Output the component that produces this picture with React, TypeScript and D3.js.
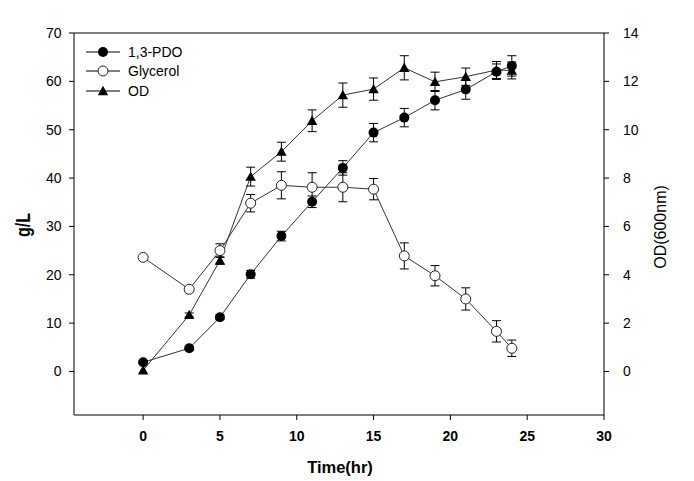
import React from "react";
import * as d3 from "d3";

const times = [0, 3, 5, 7, 9, 11, 13, 15, 17, 19, 21, 23, 24];
const pdo = [1.9, 4.8, 11.2, 20.1, 28.0, 35.1, 42.1, 49.4, 52.5, 56.1, 58.3, 62.0, 63.2];
const pdoErr = [0.3, 0.4, 0.5, 0.8, 1.0, 1.2, 1.5, 1.9, 1.9, 2.0, 2.0, 1.6, 2.1];
const glycerol = [23.6, 17.0, 25.0, 34.8, 38.5, 38.1, 38.1, 37.7, 23.9, 19.8, 15.0, 8.3, 4.8];
const glycerolErr = [0, 0.4, 1.4, 1.8, 2.8, 3.0, 3.0, 2.2, 2.7, 2.1, 2.3, 2.2, 1.7];
const od = [0.05, 2.34, 4.59, 8.06, 9.09, 10.37, 11.43, 11.68, 12.56, 11.98, 12.19, 12.47, 12.45];
const odErr = [0, 0.08, 0.15, 0.39, 0.39, 0.45, 0.5, 0.46, 0.5, 0.4, 0.36, 0.35, 0.35];

const xTicks = [0, 5, 10, 15, 20, 25, 30];
const yTicks = [0, 10, 20, 30, 40, 50, 60, 70];
const y2Ticks = [0, 2, 4, 6, 8, 10, 12, 14];
const seriesNames = ["1,3-PDO", "Glycerol", "OD"];

const W = 694, H = 481;
const L = 74, R = 604, T = 33, B = 415;
const FONT = "Arial, 'Liberation Sans', sans-serif";

export default function App() {
  const x = d3.scaleLinear().domain([-4.5, 30]).range([L, R]);
  const y = d3.scaleLinear().domain([-9, 70]).range([B, T]);
  const y2 = d3.scaleLinear().domain([-1.8, 14]).range([B, T]);
  const line = (vals: number[], ys: d3.ScaleLinear<number, number>) =>
    d3.line<number>().x((_, i) => x(times[i])).y((v) => ys(v))(vals) || "";

  const errBars = (vals: number[], errs: number[], ys: d3.ScaleLinear<number, number>, key: string) =>
    vals.map((v, i) =>
      errs[i] > 0 ? (
        <g key={key + i} stroke="#000" strokeWidth={1}>
          <line x1={x(times[i])} x2={x(times[i])} y1={ys(v - errs[i])} y2={ys(v + errs[i])} />
          <line x1={x(times[i]) - 4.5} x2={x(times[i]) + 4.5} y1={ys(v - errs[i])} y2={ys(v - errs[i])} />
          <line x1={x(times[i]) - 4.5} x2={x(times[i]) + 4.5} y1={ys(v + errs[i])} y2={ys(v + errs[i])} />
        </g>
      ) : null
    );

  const tri = (cx: number, cy: number, s = 5.2) =>
    `M${cx},${cy - s} L${cx + s},${cy + s * 0.8} L${cx - s},${cy + s * 0.8} Z`;

  const legendRows = [
    { name: seriesNames[0], y: 52 },
    { name: seriesNames[1], y: 71 },
    { name: seriesNames[2], y: 91 },
  ];

  return (
    <svg width={W} height={H} style={{ position: "absolute", left: 0, top: 0 }} fontFamily={FONT}>
      <rect width={W} height={H} fill="#fff" />
      {/* frame */}
      <line x1={L} x2={R} y1={T} y2={T} stroke="#000" />
      <line x1={L} x2={R} y1={B} y2={B} stroke="#000" />
      <line x1={L} x2={L} y1={T} y2={B} stroke="#000" />
      <line x1={R} x2={R} y1={T} y2={B} stroke="#000" />

      {/* left axis */}
      {yTicks.map((t) => (
        <g key={"y" + t}>
          <line x1={L - 5} x2={L} y1={y(t)} y2={y(t)} stroke="#000" />
          <text x={L - 12.5} y={y(t)} dy="0.35em" textAnchor="end" fontSize={14}>{t}</text>
        </g>
      ))}
      {/* right axis */}
      {y2Ticks.map((t) => (
        <g key={"y2" + t}>
          <line x1={R} x2={R + 5} y1={y2(t)} y2={y2(t)} stroke="#000" />
          <text x={R + 19} y={y2(t)} dy="0.35em" textAnchor="start" fontSize={14}>{t}</text>
        </g>
      ))}
      {/* bottom axis */}
      {xTicks.map((t) => (
        <g key={"x" + t}>
          <line x1={x(t)} x2={x(t)} y1={B} y2={B + 5} stroke="#000" />
          <text x={x(t)} y={441} textAnchor="middle" fontSize={14} fontWeight="bold">{t}</text>
        </g>
      ))}

      <text x={340} y={473} textAnchor="middle" fontSize={16.5} fontWeight="bold">Time(hr)</text>
      <text transform={`translate(30,225) rotate(-90) scale(1,1.25)`} textAnchor="middle" fontSize={16} fontWeight="bold">g/L</text>
      <text transform={`translate(666,227) rotate(-90)`} textAnchor="middle" fontSize={16}>OD(600nm)</text>

      {/* lines */}
      <path d={line(pdo, y)} fill="none" stroke="#333" strokeWidth={1} />
      <path d={line(glycerol, y)} fill="none" stroke="#333" strokeWidth={1} />
      <path d={line(od, y2)} fill="none" stroke="#333" strokeWidth={1} />

      {errBars(glycerol, glycerolErr, y, "ge")}
      {errBars(pdo, pdoErr, y, "pe")}
      {errBars(od, odErr, y2, "oe")}

      {glycerol.map((v, i) => (
        <circle key={"g" + i} cx={x(times[i])} cy={y(v)} r={5} fill="#fff" stroke="#222" strokeWidth={1} />
      ))}
      {pdo.map((v, i) => (
        <circle key={"p" + i} cx={x(times[i])} cy={y(v)} r={5} fill="#000" />
      ))}
      {od.map((v, i) => (
        <path key={"o" + i} d={tri(x(times[i]), y2(v))} fill="#000" />
      ))}

      {/* legend */}
      {legendRows.map((r, i) => (
        <g key={"l" + i}>
          <line x1={86} x2={120} y1={r.y} y2={r.y} stroke="#000" />
          {i === 0 && <circle cx={103} cy={r.y} r={5} fill="#000" />}
          {i === 1 && <circle cx={103} cy={r.y} r={5} fill="#fff" stroke="#222" />}
          {i === 2 && <path d={tri(103, r.y)} fill="#000" />}
          <text x={128} y={r.y} dy="0.35em" fontSize={14}>{r.name}</text>
        </g>
      ))}
    </svg>
  );
}
